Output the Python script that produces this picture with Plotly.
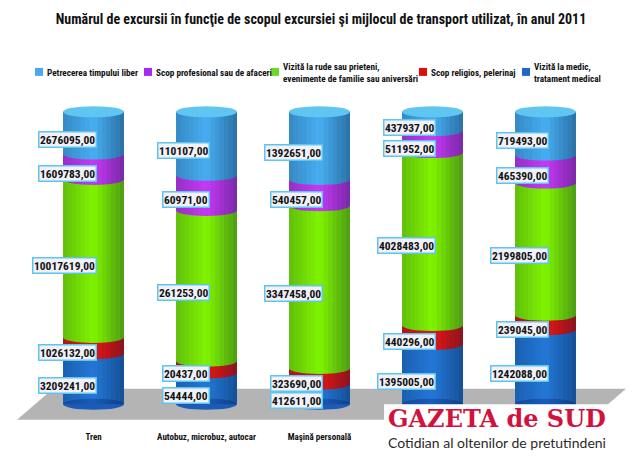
import plotly.graph_objects as go

# Date (numar de excursii, 2011)
titlu = "Numărul de excursii în funcţie de scopul excursiei şi mijlocul de transport utilizat, în anul 2011"
# ultimele doua etichete sunt acoperite de sigla in imaginea originala
categorii = ["Tren", "Autobuz, microbuz, autocar", "Maşină personală", "", ""]

scopuri = [
    "Petrecerea timpului liber",
    "Scop profesional sau de afaceri",
    "Vizită la rude sau prieteni,<br>evenimente de familie sau aniversări",
    "Scop religios, pelerinaj",
    "Vizită la medic,<br>tratament medical",
]
timp_liber = [2676095, 110107, 1392651, 437937, 719493]
profesional = [1609783, 60971, 540457, 511952, 465390]
rude = [10017619, 261253, 3347458, 4028483, 2199805]
religios = [1026132, 20437, 323690, 440296, 239045]
medic = [3209241, 54444, 412611, 1395005, 1242088]

culori = ["#48aef2", "#c838f6", "#80f500", "#e51616", "#2478d8"]
culori_legenda = ["#48aaea", "#a42cf0", "#6cd82a", "#e00d0d", "#2366c4"]

FONT = "Roboto Condensed, Open Sans, sans-serif"

# the page puts the figure 8px in from the top-left corner
OFF = 8
W, H = 640 - 2 * OFF, 462 - 2 * OFF
# plot area, in window pixels
X0, X1, Y0, Y1 = 37, 602, 103, 422
ML, MR, MT = X0 - OFF, W - (X1 - OFF), Y0 - OFF
MB = H - (Y1 - OFF)


def px(x):
    return (x - X0) / (X1 - X0)


def py(y):
    return (Y1 - y) / (Y1 - Y0)


x_pos = list(range(len(categorii)))
serii = [medic, religios, rude, profesional, timp_liber]  # de jos in sus
culori_serii = culori[::-1]
nume_serii = scopuri[::-1]

BAR_W = 0.54
HALF = BAR_W / 2
RY = 1.9  # ellipse half-height in y units

fig = go.Figure()
for vals, col, name in zip(serii, culori_serii, nume_serii):
    fig.add_trace(go.Bar(
        x=x_pos, y=vals, name=name.replace("<br>", " "),
        marker=dict(color=col, line=dict(width=0)),
        width=BAR_W, showlegend=False,
        hovertemplate="%{y:,}<extra></extra>",
    ))

shapes = []
annotations = []

# grey floor
shapes.append(dict(
    type="path", xref="paper", yref="paper", layer="below",
    path=f"M {px(17)} {py(429)} L {px(53)} {py(397)} L {px(626)} {py(397)} L {px(590)} {py(429)} Z",
    fillcolor="#b4b4b4", line=dict(width=0),
))

for i in x_pos:
    vals = [s[i] for s in serii]
    total = sum(vals)
    cum = 0.0
    bounds = []
    for v in vals:
        bounds.append((cum, cum + v / total * 100))
        cum += v / total * 100

    # bottom ellipse
    shapes.append(dict(type="circle", xref="x", yref="y", layer="above",
                       x0=i - HALF, x1=i + HALF, y0=-RY, y1=RY,
                       fillcolor="#1b5cba", line=dict(width=0)))
    # curved boundaries (upper segment bulges down)
    for k in range(1, len(vals)):
        y = bounds[k][0]
        shapes.append(dict(type="circle", xref="x", yref="y", layer="above",
                           x0=i - HALF, x1=i + HALF, y0=y - RY, y1=y + RY,
                           fillcolor=culori_serii[k], line=dict(width=0)))
    # cylinder shading
    n = 14
    for k in range(n):
        t = (k + 0.5) / n
        a = 0.24 * (0.5 - t) / 0.5 if t < 0.5 else 0.40 * (t - 0.5) / 0.5
        shapes.append(dict(type="rect", xref="x", yref="y", layer="above",
                           x0=i - HALF + k * BAR_W / n, x1=i - HALF + (k + 1) * BAR_W / n,
                           y0=0, y1=100,
                           fillcolor=f"rgba(0,20,50,{a:.3f})", line=dict(width=0)))
    # top cap
    shapes.append(dict(type="circle", xref="x", yref="y", layer="above",
                       x0=i - HALF, x1=i + HALF, y0=100 - RY, y1=100 + RY,
                       fillcolor="#5ec6f0", line=dict(width=0)))

    # value labels
    for (y0, y1), v in zip(bounds, vals):
        annotations.append(dict(
            x=i + 0.03, y=(y0 + y1) / 2 - 2.3, xref="x", yref="y",
            xanchor="right", yanchor="middle", showarrow=False,
            text=f"{v},00",
            font=dict(family=FONT, size=11.5, color="#111111", weight="bold"),
            bgcolor="#f1f1f9", bordercolor="#5cc6ee", borderwidth=1.5, borderpad=0.5,
            height=13,
        ))

# legend (manual, to match spacing)
leg_x = [39, 148, 275, 423, 526]
for lx, name, col in zip(leg_x, scopuri, culori_legenda):
    shapes.append(dict(type="rect", xref="paper", yref="paper", layer="above",
                       xsizemode="pixel", ysizemode="pixel",
                       xanchor=px(lx), yanchor=py(71),
                       x0=-4, x1=4, y0=-4, y1=4,
                       fillcolor=col, line=dict(width=0)))
    annotations.append(dict(
        x=px(lx + 6), y=py(71.5), xref="paper", yref="paper",
        xanchor="left", yanchor="middle", align="left", showarrow=False,
        text=name, font=dict(family=FONT, size=9.2, color="#111111", weight="bold"),
    ))

# logo
shapes.append(dict(type="rect", xref="paper", yref="paper", layer="above",
                   x0=px(384), x1=px(660), y0=py(480), y1=py(413),
                   fillcolor="white", line=dict(width=0)))
annotations.append(dict(
    x=px(386), y=py(428), xref="paper", yref="paper", xanchor="left", yanchor="middle",
    showarrow=False, text="GAZETA de SUD",
    font=dict(family="DejaVu Serif, Liberation Serif, serif", size=24, color="#d2123e", weight="bold"),
))
annotations.append(dict(
    x=px(386), y=py(452), xref="paper", yref="paper", xanchor="left", yanchor="middle",
    showarrow=False, text="Cotidian al oltenilor de pretutindeni",
    font=dict(family="Lato, sans-serif", size=14, color="#2a2a2a"),
))

fig.update_layout(
    width=W, height=H,
    margin=dict(l=ML, r=MR, t=MT, b=MB),
    paper_bgcolor="white", plot_bgcolor="rgba(0,0,0,0)",
    barmode="stack", barnorm="percent",
    title=dict(text=titlu, x=(321 - OFF) / W, xanchor="center", y=1 - (19 - OFF) / H, yanchor="middle",
               font=dict(family=FONT, size=14, color="#111111", weight="bold")),
    xaxis=dict(range=[-0.5, 4.5], tickmode="array", tickvals=x_pos, ticktext=categorii,
               showgrid=False, zeroline=False, showline=False,
               ticks="outside", ticklen=15, tickcolor="rgba(0,0,0,0)",
               tickfont=dict(family=FONT, size=9, color="#111111", weight="bold")),
    yaxis=dict(range=[-3, 103], visible=False),
    shapes=shapes, annotations=annotations,
    showlegend=False,
)

fig.write_html("out.html")
